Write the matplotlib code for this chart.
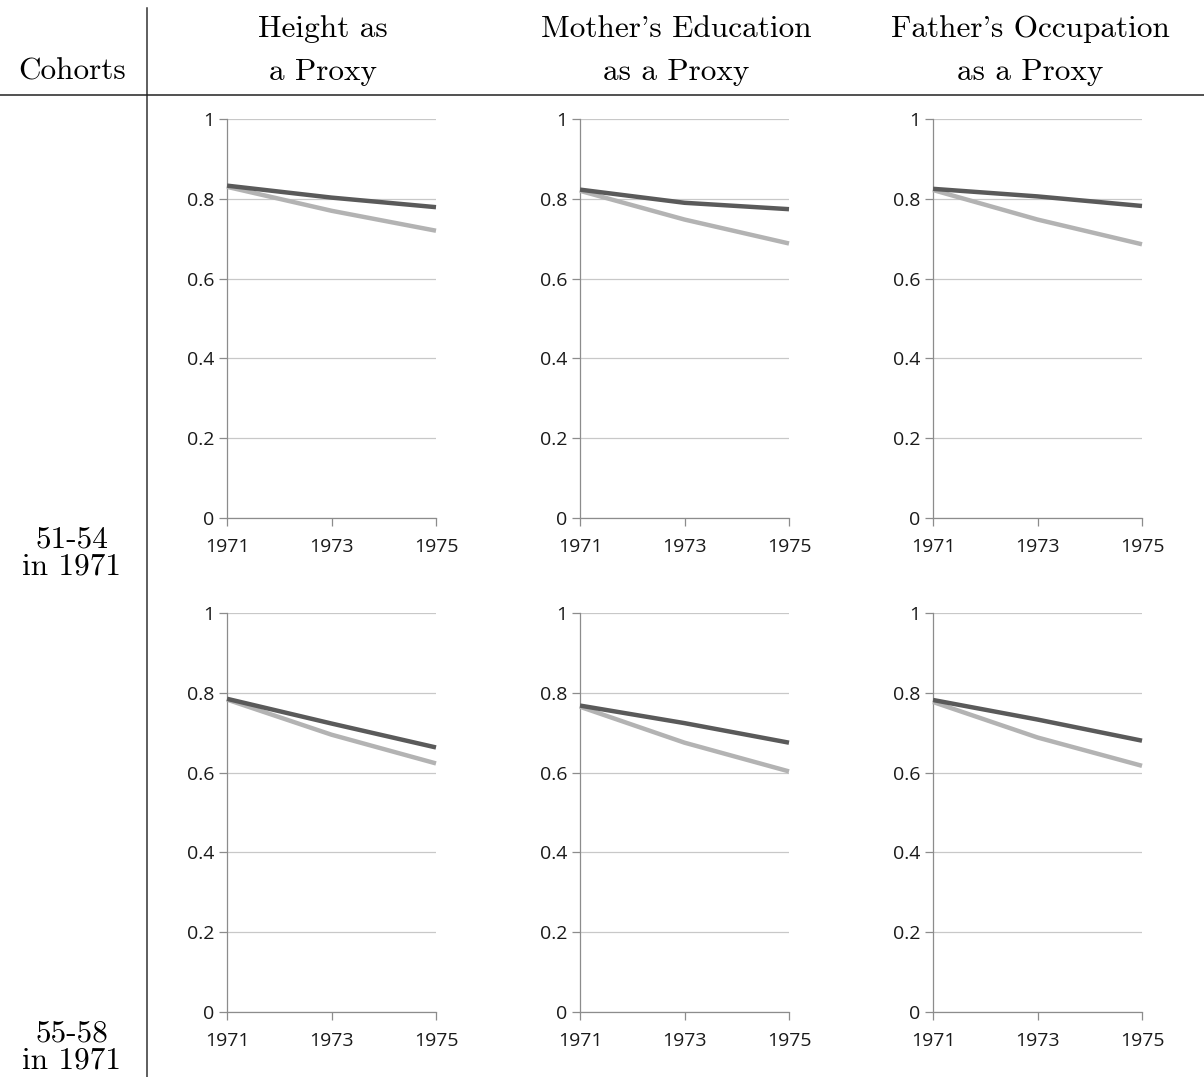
import numpy as np
from matplotlib import pyplot as plt
from matplotlib.lines import Line2D

W, H = 1204, 1077

years = [1971, 1973, 1975]
proxies = ["Height as\na Proxy", "Mother's Education\nas a Proxy", "Father's Occupation\nas a Proxy"]
cohorts = ["51-54\nin 1971", "55-58\nin 1971"]

# dark series, per cohort row then per proxy column
dark_51 = [[0.833, 0.803, 0.779], [0.823, 0.790, 0.774], [0.825, 0.806, 0.782]]
light_51 = [[0.830, 0.770, 0.720], [0.820, 0.748, 0.688], [0.822, 0.748, 0.686]]
dark_55 = [[0.785, 0.723, 0.663], [0.768, 0.724, 0.675], [0.782, 0.733, 0.680]]
light_55 = [[0.783, 0.695, 0.623], [0.765, 0.675, 0.603], [0.777, 0.688, 0.617]]

yticks = [0, 0.2, 0.4, 0.6, 0.8, 1]
ylabels = ['0', '0.2', '0.4', '0.6', '0.8', '1']

dark_col = '#5a5a5a'
light_col = '#b3b3b3'
tick_font = 'Open Sans'
serif = 'cmr10'
fs = 22.5

fig = plt.figure(figsize=(W / 100, H / 100), dpi=100, facecolor='w')

def px_axes(x0, y0, x1, y1):
    return fig.add_axes([x0 / W, 1 - y1 / H, (x1 - x0) / W, (y1 - y0) / H])

col_x = [227, 580, 933]
row_y = [(119, 518), (613, 1012)]
axw = 209

for r, (dark, light) in enumerate([(dark_51, light_51), (dark_55, light_55)]):
    for c in range(3):
        y0, y1 = row_y[r]
        ax = px_axes(col_x[c], y0, col_x[c] + axw, y1)
        ax.plot(years, dark[c], color=dark_col, lw=3.2, zorder=4, clip_on=False, solid_capstyle='butt')
        ax.plot(years, light[c], color=light_col, lw=3.2, zorder=3, clip_on=False, solid_capstyle='butt')
        ax.set_xlim(1971, 1975)
        ax.set_ylim(0, 1)
        ax.set_xticks(years)
        ax.set_xticklabels([str(y) for y in years], fontsize=14, family=tick_font, color='#1a1a1a')
        ax.set_yticks(yticks)
        ax.set_yticklabels(ylabels, fontsize=14, family=tick_font, color='#1a1a1a')
        ax.yaxis.grid(True, color='#c8c8c8', lw=0.9, zorder=0)
        ax.set_axisbelow(True)
        for s in ['top', 'right']:
            ax.spines[s].set_visible(False)
        for s in ['left', 'bottom']:
            ax.spines[s].set_color('#8c8c8c')
            ax.spines[s].set_linewidth(0.9)
        ax.tick_params(axis='y', length=6, width=0.9, color='#8c8c8c', pad=3)
        ax.tick_params(axis='x', length=5.5, width=0.9, color='#8c8c8c', pad=9)

# table rules
fig.add_artist(Line2D([147 / W, 147 / W], [1 - 8 / H, 0], color='#333333', lw=1.1))
fig.add_artist(Line2D([0, 1], [1 - 95 / H, 1 - 95 / H], color='#222222', lw=1.1))

# header
fig.text(72 / W, 1 - 80 / H, "Cohorts", family=serif, fontsize=fs, ha='center', va='baseline')
head_x = [323, 676, 1030]
for x, t in zip(head_x, proxies):
    l1, l2 = t.split('\n')
    fig.text(x / W, 1 - 37 / H, l1, family=serif, fontsize=fs, ha='center', va='baseline')
    fig.text(x / W, 1 - 80 / H, l2, family=serif, fontsize=fs, ha='center', va='baseline')

# row labels (two tight lines each)
for t, yc in zip(cohorts, [553, 1047]):
    fig.text(72 / W, 1 - yc / H, t, family=serif, fontsize=fs, ha='center', va='center',
             linespacing=0.95)

fig.savefig('out.png', dpi=100)
